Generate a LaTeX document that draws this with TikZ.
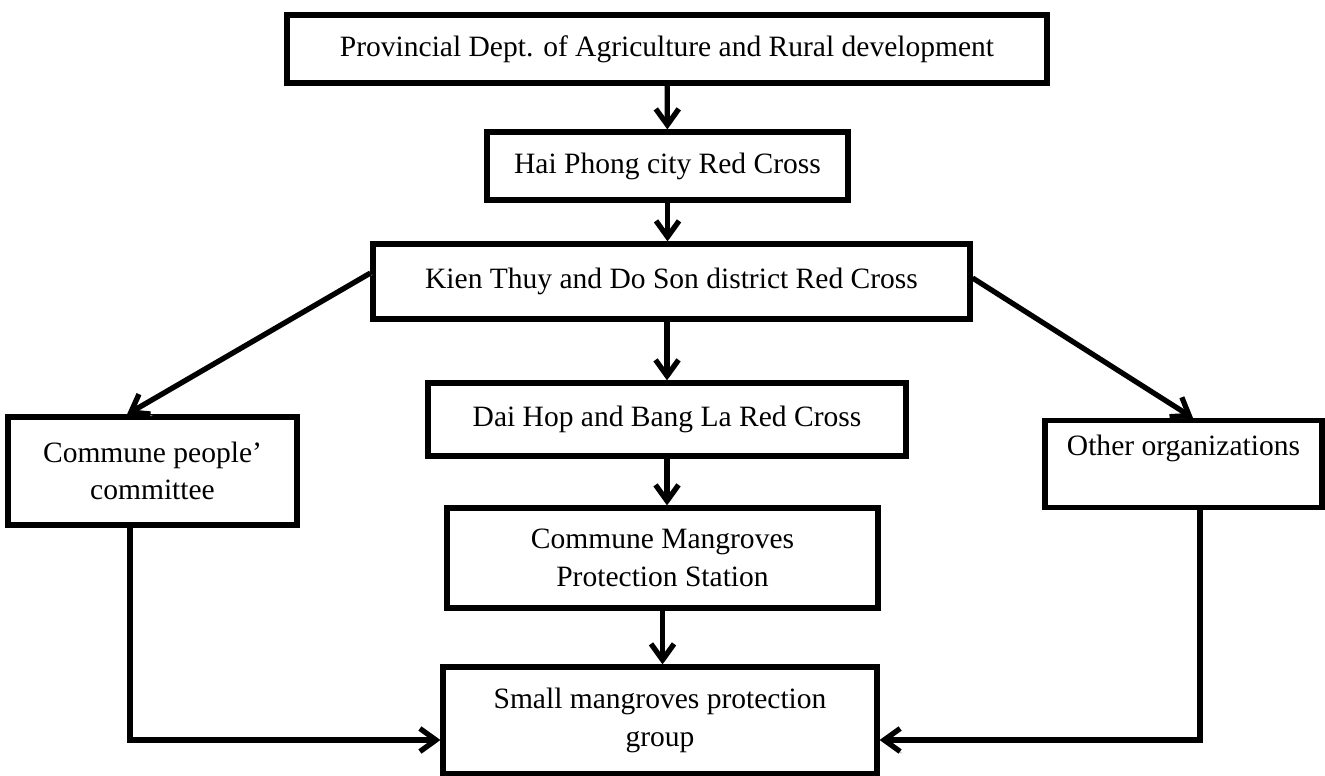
\documentclass[tikz,border=0pt]{standalone}
\usepackage{fontspec}
\setmainfont{Liberation Serif}
\usetikzlibrary{arrows.meta,shadows}
\tikzstyle{orgbox} = [draw,line width=3pt,rectangle,fill=white,inner sep=0,align=center,font=\fontsize{16.8}{21.5}\selectfont,drop shadow={shadow xshift=1.6pt,shadow yshift=-1.6pt,fill=gray!70,opacity=1}]
\tikzstyle{link} = [line width=3pt,-{Straight Barb[length=3.2mm,width=4.6mm]},preaction={draw=gray!55,transform canvas={shift={(1pt,-1pt)}}}]
\def \px {0.02cm}

\begin{document}
\begin{tikzpicture}[x=\px,y=-\px]
      \useasboundingbox (0,0) rectangle (1325,776);
      \node[orgbox,minimum width=15.2cm,minimum height=1.36cm] (prov) at (667,49) {Provincial Dept. of Agriculture and Rural development};
      \node[orgbox,minimum width=7.22cm,minimum height=1.36cm] (haiphong) at (667.5,166) {Hai Phong city Red Cross};
      \node[orgbox,minimum width=11.94cm,minimum height=1.5cm] (kienthuy) at (671.5,281.5) {Kien Thuy and Do Son district Red Cross};
      \node[orgbox,minimum width=9.56cm,minimum height=1.46cm] (daihop) at (667,419.5) {Dai Hop and Bang La Red Cross};
      \node[orgbox,minimum width=5.78cm,minimum height=2.16cm] (people) at (152.5,471) {Commune people’\\committee};
      \node[orgbox,minimum width=5.54cm,text height=0.7cm,text depth=1.04cm,anchor=north] (other) at (1183.5,418) {Other organizations};
      \node[orgbox,minimum width=8.62cm,minimum height=2cm] (station) at (662.5,558) {Commune Mangroves\\Protection Station};
      \node[orgbox,minimum width=8.68cm,minimum height=2.14cm] (group) at (660,720.5) {Small mangroves protection\\group};
      \draw[link] (prov) -- (haiphong);
      \draw[link] (haiphong.south) -- (haiphong.south |- kienthuy.north);
      \draw[link] (daihop.north |- kienthuy.south) -- (daihop);
      \draw[link] (daihop.south) -- (daihop.south |- station.north);
      \draw[link] (station.south) -- (station.south |- group.north);
      \draw[link] ([yshift=0.17cm]kienthuy.west) -- ([xshift=-0.51cm]people.north);
      \draw[link] ([yshift=0.07cm]kienthuy.east) -- ([xshift=0.19cm]other.north);
      \draw[link] ([xshift=-0.45cm]people.south) |- ([yshift=-0.39cm]group.west);
      \draw[link] ([xshift=0.33cm]other.south) |- ([yshift=-0.39cm]group.east);
    \end{tikzpicture}
\end{document}
